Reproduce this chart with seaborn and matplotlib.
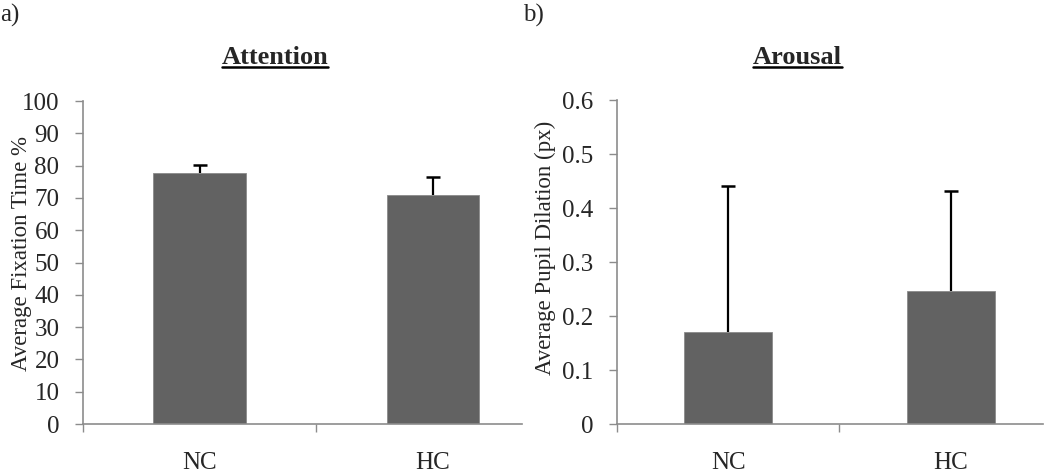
import matplotlib
matplotlib.use("Agg")
import matplotlib.pyplot as plt
import seaborn as sns
from matplotlib.lines import Line2D

groups = ["NC", "HC"]
attention_mean = [77.6, 70.9]
attention_upper = [80.2, 76.6]
arousal_mean = [0.171, 0.247]
arousal_upper = [0.441, 0.431]

sns.set_theme(style="white")
plt.rcParams["font.family"] = ["Liberation Serif", "DejaVu Serif"]

bar_color = "#626262"
spine_color = "#8c8c8c"

fig = plt.figure(figsize=(10.5, 4.73), dpi=100)
ax1 = fig.add_axes([83 / 1050, 49 / 473, 439 / 1050, 323 / 473])
ax2 = fig.add_axes([617 / 1050, 49 / 473, 426 / 1050, 324 / 473])


def draw_panel(ax, means, upper, ylim, yticks, ylabel, xright, fmt, label_xy):
    sns.barplot(x=groups, y=means, color=bar_color, width=0.395, ax=ax,
                saturation=1, edgecolor="#8a8a8a", linewidth=0.6)
    err = [u - m for u, m in zip(upper, means)]
    # only the upper half of the error bar, like Excel "plus" bars
    ax.errorbar([0, 1], means, yerr=[[0, 0], err], fmt="none",
                ecolor="black", elinewidth=1.6, capsize=0)
    ax.plot([0, 1], upper, ls="none", marker="_", markersize=10,
            markeredgewidth=1.8, color="black")
    ax.set_xlim(-0.5, xright)
    ax.set_ylim(*ylim)
    ax.set_yticks(yticks)
    ax.set_yticklabels([fmt(t) for t in yticks], fontsize=18)
    ax.set_ylabel(ylabel, fontsize=16.5)
    ax.yaxis.set_label_coords(*label_xy)
    ax.set_xticks([0, 1])
    ax.set_xticklabels(groups, fontsize=18)
    ax.set_xticks([-0.5, 0.5], minor=True)
    ax.tick_params(axis="x", which="major", length=0, pad=20)
    ax.tick_params(axis="x", which="minor", length=6, width=1,
                   color=spine_color, direction="out", bottom=True)
    ax.tick_params(axis="y", length=6, width=1, color=spine_color,
                   direction="out", left=True, pad=11)
    for side in ["top", "right"]:
        ax.spines[side].set_visible(False)
    for side in ["left", "bottom"]:
        ax.spines[side].set_color(spine_color)
        ax.spines[side].set_linewidth(1.2)
    ax.set_xlabel("")


draw_panel(ax1, attention_mean, attention_upper, (0, 100), list(range(0, 101, 10)),
           "Average Fixation Time %", 1.384, lambda t: str(t), (-0.117, 0.529))
draw_panel(ax2, arousal_mean, arousal_upper, (0, 0.6),
           [0, 0.1, 0.2, 0.3, 0.4, 0.5, 0.6],
           "Average Pupil Dilation (px)", 1.415,
           lambda t: "0" if t == 0 else f"{t:.1f}", (-0.143, 0.543))

fig.text(0 / 1050, 1 - 15 / 473, "a)", fontsize=18, va="center", ha="left")
fig.text(523 / 1050, 1 - 15 / 473, "b)", fontsize=18, va="center", ha="left")

titles = []
titles.append(fig.text(275 / 1050, 1 - 57 / 473, "Attention", fontsize=19,
                       fontweight="bold", ha="center", va="center"))
titles.append(fig.text(797 / 1050, 1 - 57 / 473, "Arousal", fontsize=19,
                       fontweight="bold", ha="center", va="center"))

# underline the titles
fig.canvas.draw()
renderer = fig.canvas.get_renderer()
for t in titles:
    bb = t.get_window_extent(renderer)
    y = (bb.y0 + 1) / fig.bbox.height
    fig.add_artist(Line2D([bb.x0 / fig.bbox.width, bb.x1 / fig.bbox.width], [y, y],
                          transform=fig.transFigure, color="black", linewidth=1.8))

fig.savefig("out.png", dpi=100)
